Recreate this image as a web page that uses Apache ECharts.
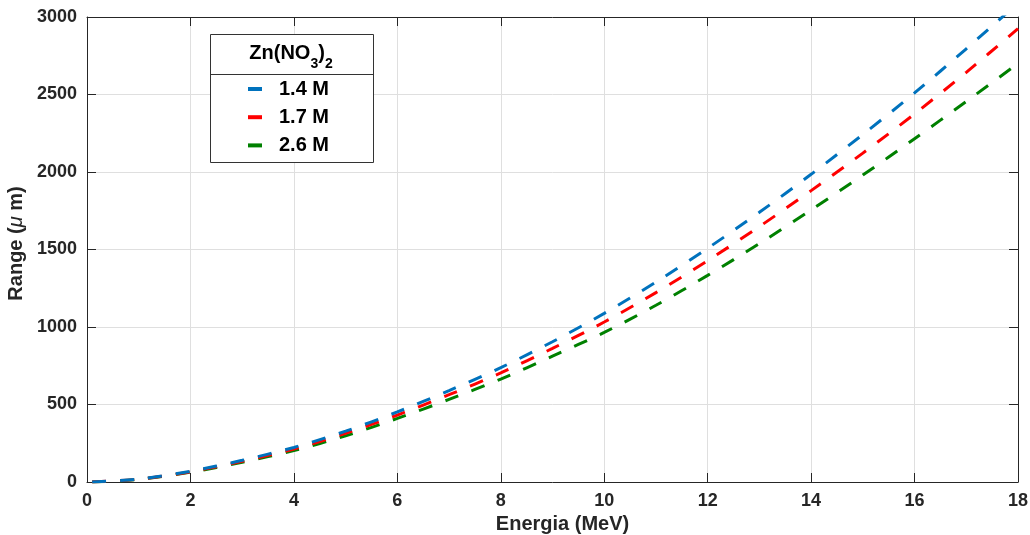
<!DOCTYPE html>
<html>
<head>
<meta charset="utf-8">
<title>Range vs Energia</title>
<script src="https://cdn.jsdelivr.net/npm/echarts@6/dist/echarts.min.js"></script>
<style>
  html, body { margin: 0; padding: 0; background: #fff; }
  #chart { width: 1030px; height: 535px; }
</style>
</head>
<body>
<div id="chart"></div>
<script>
// Proton range in Zn(NO3)2 solutions, micrometres, against energy in MeV
const energy = [0.1, 1, 2, 3, 4, 5, 6, 7, 8, 9, 10, 11, 12, 13, 14, 15, 16, 17, 18];
const range14M = [0, 19, 69, 140, 223, 328, 452, 590, 738, 905, 1088, 1290, 1508, 1740, 1985, 2242, 2510, 2795, 3090];
const range17M = [0, 18, 66, 134, 213, 314, 432, 563, 704, 862, 1032, 1222, 1428, 1648, 1880, 2122, 2375, 2643, 2925];
const range26M = [0, 17, 63, 128, 203, 298, 410, 533, 664, 812, 965, 1140, 1333, 1538, 1755, 1980, 2215, 2455, 2700];
const seriesNames = ['1.4 M', '1.7 M', '2.6 M'];
const seriesColors = ['#0072BD', '#FF0000', '#008000'];
const xTicks = { min: 0, max: 18, interval: 2 };
const yTicks = { min: 0, max: 3000, interval: 500 };

const FONT = '"Liberation Sans", Arial, Helvetica, sans-serif';
const INK = '#262626';

const chart = echarts.init(document.getElementById('chart'), null, { renderer: 'canvas' });

function pairs(xs, ys) {
  return xs.map((x, i) => [x, ys[i]]);
}

const tickLabel = {
  color: INK, fontFamily: FONT, fontWeight: 'bold', fontSize: 18,
  formatter: (v) => String(v)
};

function baseAxis(extra) {
  return Object.assign({
    type: 'value',
    axisLine: { show: true, onZero: false, lineStyle: { color: INK, width: 1 } },
    axisTick: { show: true, inside: true, length: 9, lineStyle: { color: INK, width: 1 } },
    splitLine: { show: false },
    axisLabel: { show: false }
  }, extra);
}

const allRanges = [range14M, range17M, range26M];

const option = {
  animation: false,
  backgroundColor: '#ffffff',
  grid: {
    left: 87, right: 12, top: 17, bottom: 53,
    containLabel: false,
    outerBoundsMode: 'none'
  },
  xAxis: [
    baseAxis({
      position: 'bottom',
      min: xTicks.min, max: xTicks.max, interval: xTicks.interval,
      splitLine: { show: true, lineStyle: { color: '#dfdfdf', width: 1 } },
      axisLabel: Object.assign({ show: true, margin: 10 }, tickLabel),
      name: 'Energia (MeV)',
      nameLocation: 'middle',
      nameGap: 32,
      nameTextStyle: {
        color: INK, fontFamily: FONT, fontWeight: 'bold', fontSize: 20,
        padding: [0, 0, 0, 20]
      }
    }),
    baseAxis({ position: 'top', min: xTicks.min, max: xTicks.max, interval: xTicks.interval })
  ],
  yAxis: [
    baseAxis({
      position: 'left',
      min: yTicks.min, max: yTicks.max, interval: yTicks.interval,
      splitLine: { show: true, lineStyle: { color: '#dfdfdf', width: 1 } },
      axisLabel: Object.assign({ show: true, margin: 10 }, tickLabel),
      name: '{b|Range (}{i|μ}{b| m)}',
      nameLocation: 'middle',
      nameGap: 52,
      nameRotate: 90,
      nameTextStyle: {
        padding: [0, 0, 0, 12],
        rich: {
          b: { color: INK, fontFamily: FONT, fontWeight: 'bold', fontSize: 20 },
          i: { color: INK, fontFamily: FONT, fontStyle: 'italic', fontWeight: 'normal', fontSize: 20 }
        }
      }
    }),
    baseAxis({ position: 'right', min: yTicks.min, max: yTicks.max, interval: yTicks.interval })
  ],
  legend: {
    orient: 'vertical',
    left: 248,
    top: 79,
    z: 100,
    padding: 0,
    itemGap: 8.2,
    itemWidth: 14,
    itemHeight: 4,
    icon: 'rect',
    selectedMode: false,
    data: seriesNames,
    textStyle: {
      color: '#000', fontFamily: FONT, fontWeight: 'bold', fontSize: 20,
      lineHeight: 20, padding: [0, 0, 0, 12]
    }
  },
  graphic: [
    {
      type: 'rect',
      shape: { x: 210.5, y: 34.5, width: 163, height: 128 },
      style: { fill: '#ffffff', stroke: '#333333', lineWidth: 1 },
      z: 90
    },
    {
      type: 'line',
      shape: { x1: 210.5, y1: 74.5, x2: 373.5, y2: 74.5 },
      style: { stroke: '#333333', lineWidth: 1 },
      z: 91
    },
    {
      type: 'text',
      x: 291,
      y: 43,
      z: 92,
      style: {
        text: '{m|Zn(NO}{s|3}{m|)}{s|2}',
        align: 'center',
        verticalAlign: 'top',
        rich: {
          m: { fontFamily: FONT, fontWeight: 'bold', fontSize: 20, lineHeight: 20, verticalAlign: 'top', fill: '#000' },
          s: { fontFamily: FONT, fontWeight: 'bold', fontSize: 14, lineHeight: 14, verticalAlign: 'top', padding: [14.5, 0, 0, 0], fill: '#000' }
        }
      }
    }
  ],
  series: seriesNames.map((name, k) => ({
    name: name,
    type: 'line',
    xAxisIndex: 0,
    yAxisIndex: 0,
    data: pairs(energy, allRanges[k]),
    smooth: 0.3,
    showSymbol: false,
    symbol: 'none',
    clip: true,
    color: seriesColors[k],
    lineStyle: { color: seriesColors[k], width: 3, type: [14, 14], cap: 'butt' },
    z: 3 - k
  }))
};

chart.setOption(option);
</script>
</body>
</html>
